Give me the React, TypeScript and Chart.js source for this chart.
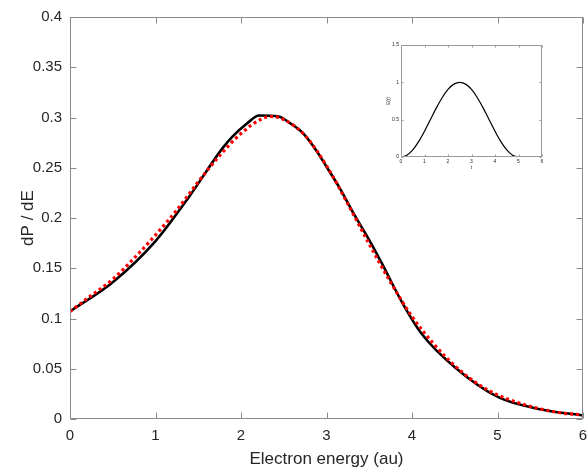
import React, { useEffect, useRef } from "react";
import { Chart, registerables } from "chart.js";

Chart.register(...registerables);

// Main chart data
const xTicks = [0, 1, 2, 3, 4, 5, 6];
const yTicks = [0, 0.05, 0.1, 0.15, 0.2, 0.25, 0.3, 0.35, 0.4];

const blackX = [0, 0.5, 1.0, 1.4, 1.78, 1.9, 2.07, 2.21, 2.44, 2.58, 2.73, 2.89, 3.0, 3.16, 3.32, 3.5, 3.64, 3.91, 4.11, 4.5, 5.01, 5.48, 6.0];
const blackY = [0.107, 0.136, 0.177, 0.222, 0.269, 0.281, 0.294, 0.302, 0.301, 0.294, 0.284, 0.266, 0.251, 0.229, 0.204, 0.178, 0.156, 0.112, 0.085, 0.0515, 0.0217, 0.010, 0.0035];

const redX = [0, 0.25, 0.5, 0.75, 1.0, 1.25, 1.5, 1.75, 2.0, 2.25, 2.35, 2.5, 2.75, 3.0, 3.25, 3.5, 3.75, 4.0, 4.25, 4.5, 4.75, 5.0, 5.25, 5.5, 5.75, 6.0];
const redY = [0.107, 0.123, 0.139, 0.160, 0.183, 0.208, 0.236, 0.262, 0.284, 0.299, 0.301, 0.298, 0.282, 0.252, 0.214, 0.174, 0.136, 0.102, 0.075, 0.053, 0.036, 0.024, 0.016, 0.010, 0.006, 0.004];

// Inset data
const insetXTicks = [0, 1, 2, 3, 4, 5, 6];
const insetYTicks = [0, 0.5, 1, 1.5];
const insetT = [0, 0.25, 0.5, 0.75, 1, 1.25, 1.5, 1.75, 2, 2.25, 2.5, 2.75, 3, 3.25, 3.5, 3.75, 4, 4.25, 4.5, 4.75, 5];
const insetE = [0, 0.024, 0.095, 0.206, 0.345, 0.5, 0.655, 0.794, 0.905, 0.976, 1, 0.976, 0.905, 0.794, 0.655, 0.5, 0.345, 0.206, 0.095, 0.024, 0];

const FONT = "'Liberation Sans', Arial, Helvetica, sans-serif";
const TEXT = "#262626";
const AXIS = "#8a8a8a";

const boxTicks = {
  id: "boxTicks",
  afterDraw(chart: any, _args: any, opts: any) {
    const { ctx, chartArea: a, scales } = chart;
    const len = opts.len ?? 6;
    ctx.save();
    ctx.strokeStyle = opts.color ?? AXIS;
    ctx.lineWidth = opts.width ?? 1;
    const L = Math.round(a.left) + 0.5, R = Math.round(a.right) - 0.5;
    const T = Math.round(a.top) + 0.5, B = Math.round(a.bottom) - 0.5;
    ctx.strokeRect(L, T, R - L, B - T);
    ctx.beginPath();
    scales.x.ticks.forEach((t: any) => {
      const px = Math.round(scales.x.getPixelForValue(t.value)) + 0.5;
      ctx.moveTo(px, B); ctx.lineTo(px, B - len);
      ctx.moveTo(px, T); ctx.lineTo(px, T + len);
    });
    scales.y.ticks.forEach((t: any) => {
      const py = Math.round(scales.y.getPixelForValue(t.value)) + 0.5;
      ctx.moveTo(L, py); ctx.lineTo(L + len, py);
      ctx.moveTo(R, py); ctx.lineTo(R - len, py);
    });
    ctx.stroke();
    ctx.restore();
  },
};

const fmt = (v: any) => String(+Number(v).toFixed(2));

export default function App() {
  const mainRef = useRef<HTMLCanvasElement>(null);
  const insetRef = useRef<HTMLCanvasElement>(null);

  useEffect(() => {
    const main = new Chart(mainRef.current!, {
      type: "line",
      data: {
        datasets: [
          {
            data: redX.map((x, i) => ({ x, y: redY[i] })),
            borderColor: "#ff0000",
            borderWidth: 3.2,
            borderDash: [3, 3],
            borderCapStyle: "butt",
            pointRadius: 0,
            tension: 0.4,
            cubicInterpolationMode: "monotone",
            order: 0,
          },
          {
            data: blackX.map((x, i) => ({ x, y: blackY[i] })),
            borderColor: "#000000",
            borderWidth: 2.6,
            pointRadius: 0,
            tension: 0.4,
            cubicInterpolationMode: "monotone",
            order: 1,
          },
        ],
      },
      options: {
        animation: false,
        responsive: false,
        maintainAspectRatio: false,
        layout: { padding: { top: 17, right: 5, left: 0, bottom: 0 } },
        plugins: {
          legend: { display: false },
          tooltip: { enabled: false },
          boxTicks: { len: 6, color: AXIS, width: 1 },
        } as any,
        scales: {
          x: {
            type: "linear",
            min: 0,
            max: 6,
            afterBuildTicks: (s: any) => { s.ticks = xTicks.map((v) => ({ value: v })); },
            afterFit: (s: any) => { s.height = 51; s.paddingLeft = 0; s.paddingRight = 0; },
            grid: { display: false, drawTicks: false },
            border: { display: false },
            ticks: { color: TEXT, font: { family: FONT, size: 15 }, padding: 8, callback: fmt, maxRotation: 0 },
            title: { display: true, text: "Electron energy (au)", color: TEXT, font: { family: FONT, size: 17 }, padding: { top: 0, bottom: 0 } },
          },
          y: {
            type: "linear",
            min: 0,
            max: 0.4,
            afterBuildTicks: (s: any) => { s.ticks = yTicks.map((v) => ({ value: v })); },
            afterFit: (s: any) => { s.width = 70; s.paddingTop = 0; s.paddingBottom = 0; },
            grid: { display: false, drawTicks: false },
            border: { display: false },
            ticks: { color: TEXT, font: { family: FONT, size: 15 }, padding: 8, callback: fmt },
            title: { display: true, text: "dP / dE", color: TEXT, font: { family: FONT, size: 17 }, padding: { top: 18, bottom: 0 } },
          },
        },
      },
      plugins: [boxTicks],
    } as any);

    const inset = new Chart(insetRef.current!, {
      type: "line",
      data: {
        datasets: [
          {
            data: insetT.map((x, i) => ({ x, y: insetE[i] })),
            borderColor: "#000000",
            borderWidth: 1.2,
            pointRadius: 0,
            tension: 0.4,
            cubicInterpolationMode: "monotone",
          },
        ],
      },
      options: {
        animation: false,
        responsive: false,
        maintainAspectRatio: false,
        layout: { padding: { top: 7, right: 6, left: 0, bottom: 0 } },
        plugins: {
          legend: { display: false },
          tooltip: { enabled: false },
          boxTicks: { len: 2, color: "#9a9a9a", width: 1 },
        } as any,
        scales: {
          x: {
            type: "linear",
            min: 0,
            max: 6,
            afterBuildTicks: (s: any) => { s.ticks = insetXTicks.map((v) => ({ value: v })); },
            afterFit: (s: any) => { s.height = 16; s.paddingLeft = 0; s.paddingRight = 0; },
            grid: { display: false, drawTicks: false },
            border: { display: false },
            ticks: { color: TEXT, font: { family: FONT, size: 5 }, padding: 2, callback: fmt, maxRotation: 0 },
            title: { display: true, text: "t", color: TEXT, font: { family: FONT, size: 5 }, padding: { top: 0, bottom: 2 } },
          },
          y: {
            type: "linear",
            min: 0,
            max: 1.5,
            afterBuildTicks: (s: any) => { s.ticks = insetYTicks.map((v) => ({ value: v })); },
            afterFit: (s: any) => { s.width = 21; s.paddingTop = 0; s.paddingBottom = 0; },
            grid: { display: false, drawTicks: false },
            border: { display: false },
            ticks: { color: TEXT, font: { family: FONT, size: 5 }, padding: 2, callback: fmt },
            title: { display: true, text: "E(t)", color: TEXT, font: { family: FONT, size: 5 }, padding: { top: 6, bottom: 0 } },
          },
        },
      },
      plugins: [boxTicks],
    } as any);

    return () => {
      main.destroy();
      inset.destroy();
    };
  }, []);

  return (
    <div style={{ position: "fixed", left: 0, top: 0, width: 588, height: 470, background: "#fff" }}>
      <canvas ref={mainRef} width={588} height={470} style={{ position: "absolute", left: 0, top: 0, width: 588, height: 470 }} />
      <canvas ref={insetRef} width={168} height={135} style={{ position: "absolute", left: 380, top: 38, width: 168, height: 135, background: "#fff" }} />
    </div>
  );
}
